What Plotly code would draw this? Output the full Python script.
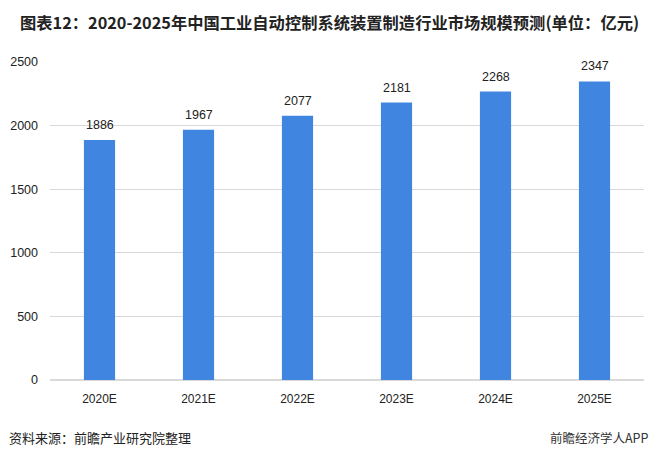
import plotly.graph_objects as go

categories = ["2020E", "2021E", "2022E", "2023E", "2024E", "2025E"]
values = [1886, 1967, 2077, 2181, 2268, 2347]
y_ticks = [0, 500, 1000, 1500, 2000, 2500]

# the page puts the figure 8px in from the top-left corner
OFF = 8
W, H = 658 - OFF, 458 - OFF
L, R, T, B = 50 - OFF, 14, 62 - OFF, 78
pw, ph = W - L - R, H - T - B

def px(x):  # screen px -> paper x
    return (x - OFF - L) / pw

def py(y):  # screen px -> paper y
    return (H - B - (y - OFF)) / ph

fig = go.Figure()
fig.add_trace(go.Bar(
    x=categories, y=values,
    marker=dict(color="#4086E0", line=dict(width=0)),
    width=0.315,
    hoverinfo="x+y",
))

label_annotations = [
    dict(x=c, y=v, xref="x", yref="y", text=str(v), showarrow=False,
         xanchor="center", yanchor="bottom", yshift=6,
         font=dict(size=12.5, color="#222222", family="Liberation Sans, Arial"))
    for c, v in zip(categories, values)
]

fig.update_layout(
    width=W, height=H,
    margin=dict(l=L, r=R, t=T, b=B, pad=0),
    paper_bgcolor="white", plot_bgcolor="white",
    showlegend=False,
    font=dict(family="Liberation Sans, Arial", size=12.5, color="#222222"),
    xaxis=dict(showgrid=False, showline=False, ticks="", automargin=False,
               tickfont=dict(size=12, color="#222222"), ticklabelstandoff=10),
    yaxis=dict(range=[0, 2500], tickvals=y_ticks, showgrid=True, gridcolor="#D9D9D9", gridwidth=1,
               zeroline=True, zerolinecolor="#D9D9D9", showline=False, ticks="", automargin=False,
               tickfont=dict(size=12.5, color="#222222"), ticklabelstandoff=11),
    annotations=label_annotations + [
        dict(text="<b>图表12：2020-2025年中国工业自动控制系统装置制造行业市场规模预测(单位：亿元)</b>",
             x=px(18), y=py(22), xref="paper", yref="paper", xanchor="left", yanchor="middle",
             showarrow=False, font=dict(size=16.3, color="#222222", family="Noto Sans CJK SC")),
        dict(text="资料来源：前瞻产业研究院整理",
             x=px(7), y=py(437), xref="paper", yref="paper", xanchor="left", yanchor="middle",
             showarrow=False, font=dict(size=13, color="#222222", family="Noto Sans CJK SC")),
        dict(text="前瞻经济学人APP",
             x=px(651), y=py(437), xref="paper", yref="paper", xanchor="right", yanchor="middle",
             showarrow=False, font=dict(size=12.5, color="#333333", family="Noto Sans CJK SC")),
    ],
)

fig.write_html("out.html")
